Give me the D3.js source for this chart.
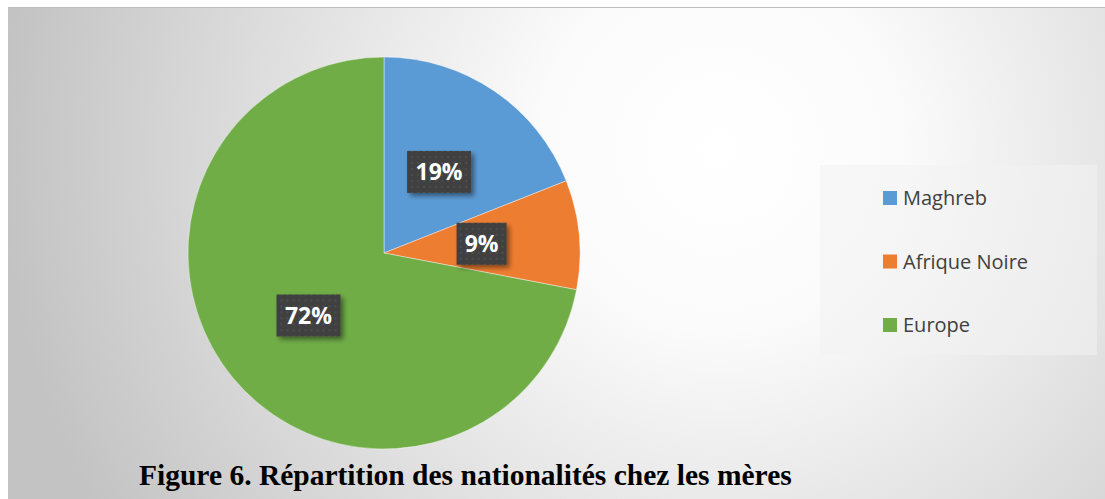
<!DOCTYPE html>
<html><head><meta charset="utf-8">
<script src="https://cdn.jsdelivr.net/npm/d3@7"></script>
<style>html,body{margin:0;padding:0;background:#fff;}svg{display:block;}</style>
</head><body>
<svg id="c" width="1105" height="499"></svg>
<script>
const categories = ["Maghreb", "Afrique Noire", "Europe"];
const values = [19, 9, 72];
const labels = ["19%", "9%", "72%"];
const colors = ["#5b9bd5", "#ed7d31", "#70ad47"];
const title = "Figure 6. Répartition des nationalités chez les mères";

const svg = d3.select("#c");
const defs = svg.append("defs");
const rg = defs.append("radialGradient").attr("id","bg")
  .attr("gradientUnits","userSpaceOnUse").attr("cx",720).attr("cy",150).attr("r",720);
rg.append("stop").attr("offset","0").attr("stop-color","#ffffff");
rg.append("stop").attr("offset","0.25").attr("stop-color","#fbfbfb");
rg.append("stop").attr("offset","1").attr("stop-color","#c3c3c3");

const pat = defs.append("pattern").attr("id","dots").attr("patternUnits","userSpaceOnUse")
  .attr("width",6).attr("height",6);
pat.append("rect").attr("width",6).attr("height",6).attr("fill","#404040");
pat.append("circle").attr("cx",3).attr("cy",3).attr("r",0.9).attr("fill","#555555");

const sh = defs.append("filter").attr("id","sh").attr("x","-30%").attr("y","-30%").attr("width","160%").attr("height","160%");
sh.append("feGaussianBlur").attr("in","SourceAlpha").attr("stdDeviation",2.5);
sh.append("feOffset").attr("dx",3).attr("dy",3).attr("result","b");
sh.append("feComponentTransfer").append("feFuncA").attr("type","linear").attr("slope",0.45);
const m = sh.append("feMerge"); m.append("feMergeNode"); m.append("feMergeNode").attr("in","SourceGraphic");

// background
svg.append("rect").attr("x",8).attr("y",7).attr("width",1097).attr("height",492).attr("fill","url(#bg)");
svg.append("line").attr("x1",8).attr("x2",1105).attr("y1",7.5).attr("y2",7.5).attr("stroke","#bdbdbd").attr("stroke-width",1);

// pie
const cx = 384, cy = 253, R = 196;
const pie = d3.pie().sort(null).value(d => d)(values);
const arc = d3.arc().innerRadius(0).outerRadius(R);
const labelArc = d3.arc().innerRadius(R*0.5).outerRadius(R*0.5);
const g = svg.append("g").attr("transform",`translate(${cx},${cy})`);
g.selectAll("path").data(pie).join("path")
  .attr("d",arc).attr("fill",(d,i)=>colors[i])
  .attr("stroke","rgba(255,255,255,0.5)").attr("stroke-width",0.8);

const lg = g.selectAll("g.lab").data(pie).join("g").attr("class","lab")
  .attr("transform",d=>`translate(${labelArc.centroid(d)})`);
const bw = [64, 50, 64];
lg.append("rect").attr("x",(d,i)=>-bw[i]/2).attr("y",-21).attr("width",(d,i)=>bw[i]).attr("height",42)
  .attr("fill","url(#dots)").attr("filter","url(#sh)");
lg.append("text").attr("text-anchor","middle").attr("dy","0.36em")
  .attr("font-family","'Open Sans', sans-serif").attr("font-weight","bold").attr("font-size",23)
  .attr("fill","#fff").text((d,i)=>labels[i]);

// legend
svg.append("rect").attr("x",820).attr("y",165).attr("width",277).attr("height",190)
  .attr("fill","#f2f2f2").attr("fill-opacity",0.55);
const ly = d3.scalePoint().domain(categories).range([198, 325]);
const leg = svg.selectAll("g.leg").data(categories).join("g").attr("class","leg")
  .attr("transform",d=>`translate(883,${ly(d)})`);
leg.append("rect").attr("x",0).attr("y",-7).attr("width",14).attr("height",14).attr("fill",(d,i)=>colors[i]);
leg.append("text").attr("x",20).attr("dy","0.35em")
  .attr("font-family","'Open Sans', sans-serif").attr("font-size",20).attr("fill","#404040").text(d=>d);

// caption
svg.append("text").attr("x",139).attr("y",485)
  .attr("font-family","'Liberation Serif', 'Times New Roman', serif").attr("font-weight","bold")
  .attr("font-size",29.5).attr("fill","#000").text(title);
</script>
</body></html>
